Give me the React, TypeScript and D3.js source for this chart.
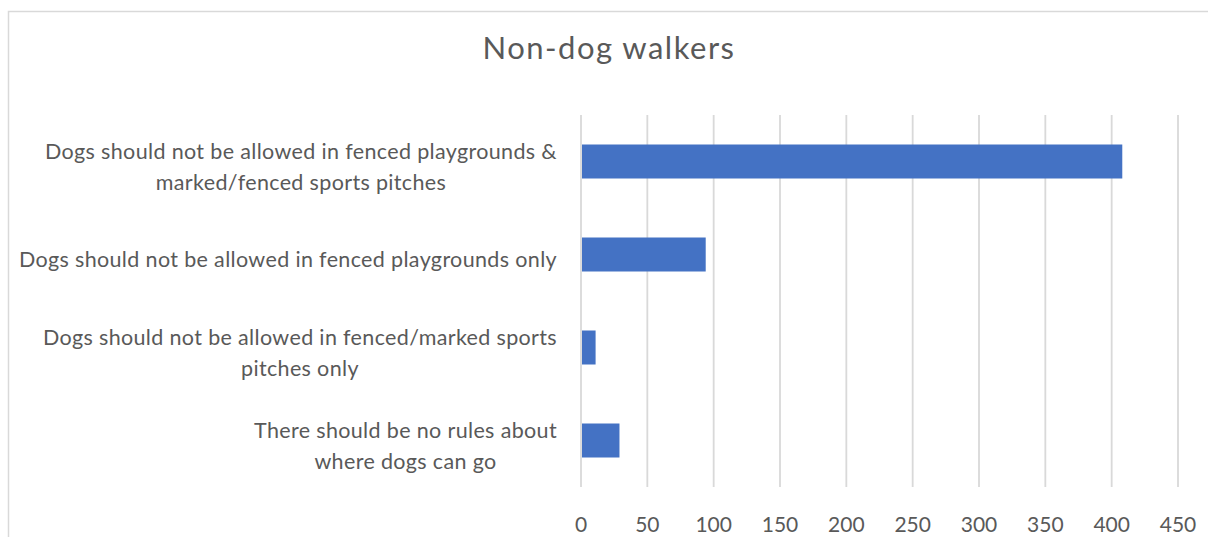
import React, { useEffect, useRef } from "react";
import * as d3 from "d3";

const title = "Non-dog walkers";
const categoryLines: string[][] = [
  ["Dogs should not be allowed in fenced playgrounds &", "marked/fenced sports pitches"],
  ["Dogs should not be allowed in fenced playgrounds only"],
  ["Dogs should not be allowed in fenced/marked sports", "pitches only"],
  ["There should be no rules about", "where dogs can go"],
];
const values = [408, 94, 11, 29];
const ticks = [0, 50, 100, 150, 200, 250, 300, 350, 400, 450];

const W = 1208;
const H = 537;
const FONT = "Lato, 'Open Sans', sans-serif";
const TEXT = "#595959";
const GRID = "#d9d9d9";
const BAR = "#4472c4";

export default function App() {
  const ref = useRef<SVGSVGElement>(null);
  useEffect(() => {
    const svg = d3.select(ref.current);
    svg.selectAll("*").remove();

    const x = d3.scaleLinear().domain([0, 450]).range([581, 1178]);
    const y = d3
      .scaleBand<number>()
      .domain(d3.range(values.length))
      .range([115, 487])
      .paddingInner(0)
      .paddingOuter(0);

    // border
    svg
      .append("path")
      .attr("d", `M8.5,${H} L8.5,11.5 L${W},11.5`)
      .attr("fill", "none")
      .attr("stroke", GRID)
      .attr("stroke-width", 1.5);

    // title
    svg
      .append("text")
      .attr("x", 609)
      .attr("y", 59)
      .attr("text-anchor", "middle")
      .attr("font-family", FONT)
      .attr("font-size", 31)
      .attr("letter-spacing", 1.5)
      .attr("fill", TEXT)
      .text(title);

    // gridlines
    svg
      .append("g")
      .selectAll("line")
      .data(ticks)
      .join("line")
      .attr("x1", (d) => x(d))
      .attr("x2", (d) => x(d))
      .attr("y1", 115)
      .attr("y2", 487)
      .attr("stroke", GRID)
      .attr("stroke-width", 1.8);

    // bars
    const barH = 34;
    svg
      .append("g")
      .selectAll("rect")
      .data(values)
      .join("rect")
      .attr("x", x(0) + 1)
      .attr("y", (_, i) => (y(i) as number) + y.bandwidth() / 2 - barH / 2)
      .attr("width", (d) => x(d) - x(0) - 1)
      .attr("height", barH)
      .attr("fill", BAR);

    // tick labels
    svg
      .append("g")
      .selectAll("text")
      .data(ticks)
      .join("text")
      .attr("x", (d) => x(d))
      .attr("y", 532)
      .attr("text-anchor", "middle")
      .attr("font-family", FONT)
      .attr("font-size", 21)
      .attr("fill", TEXT)
      .text((d) => String(d));

    // category labels
    const fs = 21.5;
    const lh = 31;
    const rightEdge = 557;
    const g = svg.append("g");
    categoryLines.forEach((lines, i) => {
      const cy = (y(i) as number) + y.bandwidth() / 2;
      const texts = lines.map((ln) =>
        g
          .append("text")
          .attr("font-family", FONT)
          .attr("font-size", fs)
          .attr("letter-spacing", 0.35)
          .attr("fill", TEXT)
          .attr("text-anchor", "middle")
          .text(ln)
      );
      const widths = texts.map((t) => (t.node() as SVGTextElement).getComputedTextLength());
      const maxW = Math.max(...widths);
      const cx = rightEdge - maxW / 2;
      const y0 = cy - ((lines.length - 1) * lh) / 2 + 5;
      texts.forEach((t, k) => {
        t.attr("x", cx).attr("y", y0 + k * lh).attr("dy", "0.35em");
      });
    });
  }, []);
  return <svg ref={ref} width={W} height={H} style={{ display: "block", position: "absolute", left: 0, top: 0 }} />;
}
